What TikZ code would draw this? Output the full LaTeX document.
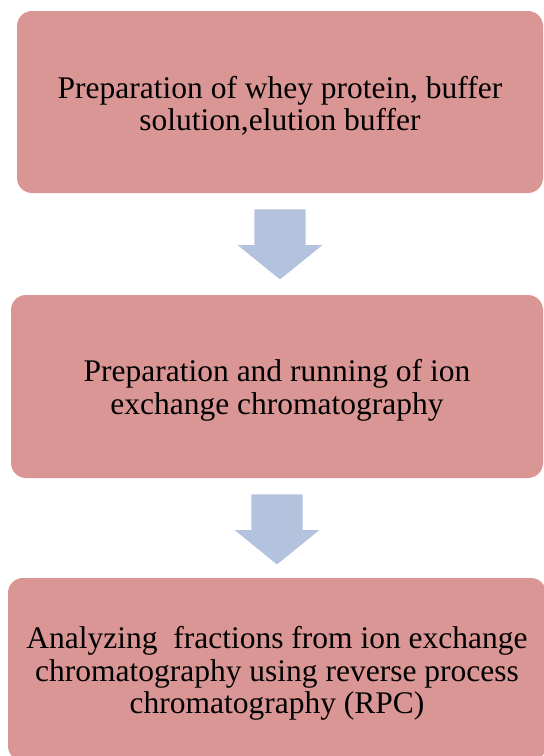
\documentclass[tikz,border=0pt]{standalone}
\usepackage{fontspec}
\setmainfont{Liberation Serif}
\usetikzlibrary{shapes.arrows,positioning}
\definecolor{boxpink}{HTML}{D99694}
\definecolor{arrowblue}{HTML}{B3C3DE}
\begin{document}
\begin{tikzpicture}[x=1pt,y=1pt,
    stepbox/.style={rectangle, rounded corners=15pt, fill=boxpink, draw=none,
      align=center, inner sep=0pt, font=\fontsize{31.5}{32.5}\selectfont},
    downarrow/.style={single arrow, fill=arrowblue, draw=none,
      shape border rotate=270, inner xsep=25.5pt, inner ysep=0pt,
      minimum height=70pt, minimum width=84pt, anchor=tail,
      single arrow head extend=16.5pt,
      single arrow tip angle=102, single arrow head indent=0pt}]
  \useasboundingbox (0,0) rectangle (544,-756);
  \draw
    (280,-102) node[stepbox, minimum width=526pt, minimum height=182pt] (0)
      {\rule{0pt}{30pt}Preparation of whey protein, buffer\\solution,elution buffer}
    (277,-386.5) node[stepbox, minimum width=532pt, minimum height=183pt] (1)
      {\rule{0pt}{30pt}Preparation and running of ion\\exchange chromatography}
    (277,-669.5) node[stepbox, minimum width=538pt, minimum height=183pt] (2)
      {\rule{0pt}{30pt}Analyzing\ \ fractions from ion exchange\\chromatography using reverse process\\chromatography (RPC)};
  \begin{scope}[draw=none]
    \path (0.south) ++(0,-16) node[downarrow] (a0) {};
    \path (1.south) ++(0,-16) node[downarrow] (a1) {};
  \end{scope}
\end{tikzpicture}
\end{document}
